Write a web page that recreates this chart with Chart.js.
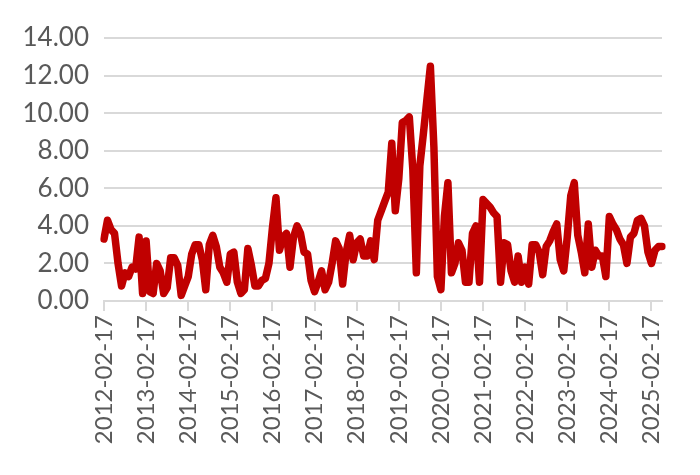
<!DOCTYPE html>
<html lang="en">
<head>
<meta charset="utf-8">
<title>Line chart</title>
<script src="https://cdn.jsdelivr.net/npm/chart.js@4.4.1/dist/chart.umd.min.js"></script>
<style>
  html, body { margin: 0; padding: 0; background: #fff; }
  #wrap { width: 700px; height: 475px; }
</style>
</head>
<body>
<div id="wrap"><canvas id="chart"></canvas></div>
<script>
// monthly points, first one is 2012-02-17
const startYear = 2012;
const startMonth = 2;
const values = [
  3.3, 4.3, 3.8, 3.6, 2.0, 0.8, 1.5, 1.3, 1.8, 1.7,
  3.4, 0.4, 3.2, 0.5, 0.4, 2.0, 1.6, 0.4, 0.7, 2.3,
  2.3, 1.9, 0.3, 0.8, 1.3, 2.5, 3.0, 3.0, 2.2, 0.6,
  3.0, 3.5, 2.9, 1.8, 1.5, 1.0, 2.5, 2.6, 1.0, 0.4,
  0.6, 2.8, 1.9, 0.8, 0.8, 1.1, 1.2, 2.0, 3.9, 5.5,
  2.7, 3.4, 3.6, 1.8, 3.4, 4.0, 3.6, 2.6, 2.5, 1.1,
  0.5, 1.0, 1.6, 0.6, 1.0, 2.0, 3.2, 2.8, 0.9, 2.6,
  3.5, 2.2, 3.1, 3.3, 2.4, 2.4, 3.2, 2.2, 4.3, 4.8,
  5.3, 5.8, 8.4, 4.8, 6.5, 9.5, 9.6, 9.8, 7.0, 1.5,
  7.2, 8.9, 10.7, 12.5, 8.2, 1.3, 0.6, 4.5, 6.3, 1.5,
  2.0, 3.1, 2.7, 1.0, 1.0, 3.6, 4.0, 1.0, 5.4, 5.2,
  5.0, 4.7, 4.5, 1.0, 3.1, 3.0, 1.6, 1.0, 2.4, 1.0,
  1.8, 0.9, 3.0, 3.0, 2.6, 1.4, 2.9, 3.2, 3.7, 4.1,
  2.2, 1.6, 3.4, 5.6, 6.3, 3.5, 2.6, 1.5, 4.1, 1.8,
  2.7, 2.4, 2.4, 1.3, 4.5, 4.1, 3.8, 3.3, 3.0, 2.0,
  3.4, 3.6, 4.3, 4.4, 4.0, 2.6, 2.0, 2.7, 2.9, 2.9
];
// labels that show on the x axis
const tickLabels = ["2012-02-17","2013-02-17","2014-02-17","2015-02-17","2016-02-17",
  "2017-02-17","2018-02-17","2019-02-17","2020-02-17","2021-02-17","2022-02-17",
  "2023-02-17","2024-02-17","2025-02-17"];

const labels = [];
for (let i = 0; i < values.length; i++) {
  const m = startMonth - 1 + i;
  const y = startYear + Math.floor(m / 12);
  const mm = (m % 12) + 1;
  labels.push(y + "-" + String(mm).padStart(2, "0") + "-17");
}

const gridCol = "#d9d9d9";
const textCol = "#595959";

new Chart(document.getElementById("chart"), {
  type: "line",
  data: {
    labels: labels,
    datasets: [{
      data: values,
      borderColor: "#c00000",
      borderWidth: 7.5,
      borderJoinStyle: "round",
      borderCapStyle: "round",
      pointRadius: 0,
      tension: 0,
      fill: false
    }]
  },
  options: {
    responsive: true,
    maintainAspectRatio: false,
    animation: false,
    layout: { padding: { top: 38, right: 38, left: 0, bottom: 0 } },
    plugins: { legend: { display: false }, tooltip: { enabled: false } },
    scales: {
      x: {
        afterFit: function (s) { s.height = 174; },
        grid: { drawOnChartArea: false, drawTicks: true, tickLength: 10, color: gridCol, lineWidth: 2 },
        border: { display: true, color: gridCol, width: 2 },
        ticks: {
          autoSkip: false,
          maxRotation: 90,
          minRotation: 90,
          padding: 4,
          color: textCol,
          font: { family: "Lato", size: 24 },
          callback: function (v) {
            const l = this.getLabelForValue(v);
            return tickLabels.indexOf(l) >= 0 ? l : null;
          }
        }
      },
      y: {
        min: 0,
        max: 14,
        afterFit: function (s) { s.width = 104; },
        grid: { drawTicks: false, color: gridCol, lineWidth: 2 },
        border: { display: false },
        ticks: {
          stepSize: 2,
          padding: 15,
          color: textCol,
          font: { family: "Lato", size: 26 },
          callback: function (v) { return v.toFixed(2); }
        }
      }
    }
  }
});
</script>
</body>
</html>
